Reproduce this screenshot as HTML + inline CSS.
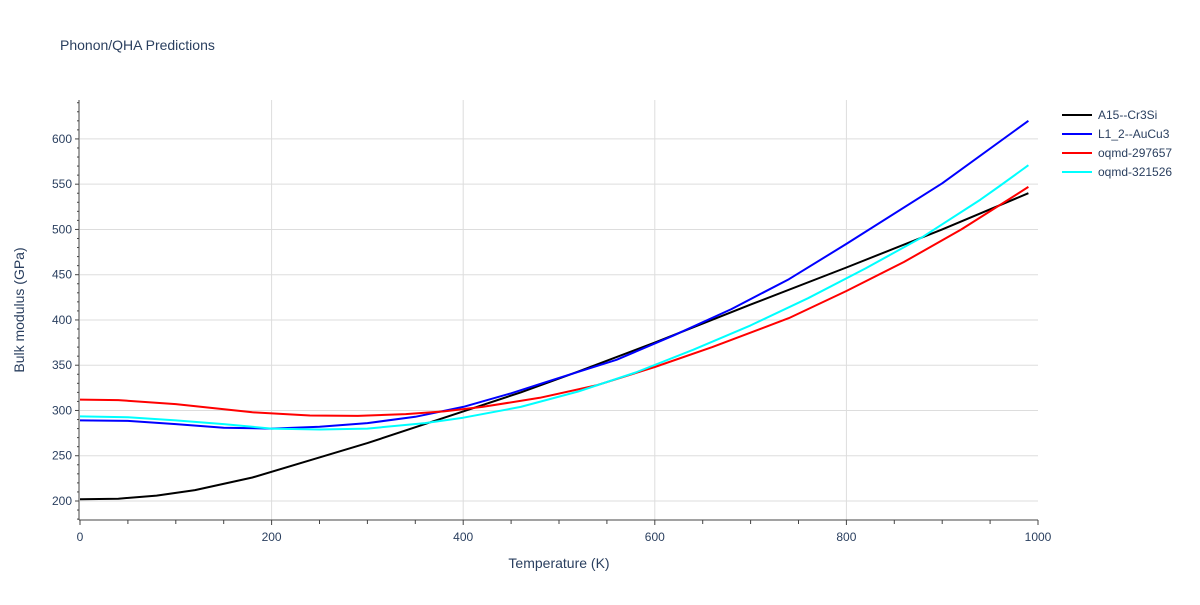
<!DOCTYPE html>
<html><head><meta charset="utf-8"><style>
body{margin:0;background:#fff;font-family:"Liberation Sans",sans-serif;}
svg text{font-family:"Liberation Sans",sans-serif;fill:#2a3f5f;}
</style></head><body>
<svg id="chart" width="1200" height="600" xmlns="http://www.w3.org/2000/svg">
<rect width="1200" height="600" fill="#fff"/>
<text x="60" y="50" font-size="14">Phonon/QHA Predictions</text>
<g id="grid"></g><g id="series"></g><g id="axes"></g><g id="legend"></g>
<text x="559" y="568" font-size="14" text-anchor="middle">Temperature (K)</text>
<text transform="translate(24,310) rotate(-90)" font-size="14" text-anchor="middle">Bulk modulus (GPa)</text>
</svg>
<script>
const seriesNames=["A15--Cr3Si","L1_2--AuCu3","oqmd-297657","oqmd-321526"];
const seriesColors=["#000000","#0000ff","#ff0000","#00ffff"];
const tA15=[0,40,80,120,180,240,300,360,400,460,520,600,700,800,900,990];
const vA15=[202,202.5,206,212,226,245,264,285,299,320,343,375,417,458,500,540];
const tL12=[0,50,100,150,200,250,300,350,400,450,500,560,620,680,740,800,900,990];
const vL12=[289,288.5,285,281,280,282,286,293,304,319,336,356,383,412,445,484,551,620];
const t297=[0,40,100,180,240,290,340,380,420,480,540,600,660,740,800,860,920,990];
const v297=[312,311.5,307,298,294.5,294,296,299,304,314,328,348,370,402,432,464,500,547];
const t321=[0,50,100,150,200,250,300,360,400,460,520,580,640,700,760,820,880,940,960,990];
const v321=[293.5,292.5,289,285,280,279,280,286,292,304,321,342,367,394,424,457,492,533,548,571];
const xTicks=[0,200,400,600,800,1000];
const yTicks=[200,250,300,350,400,450,500,550,600];
const NS="http://www.w3.org/2000/svg";
const X0=80,X1=1038,Y0=520,Y1=100,xmin=0,xmax=1000,ymin=179,ymax=643;
const xs=t=>X0+(t-xmin)/(xmax-xmin)*(X1-X0);
const ys=v=>Y0-(v-ymin)/(ymax-ymin)*(Y0-Y1);
function mk(tag,attrs,parent){const e=document.createElementNS(NS,tag);for(const k in attrs)e.setAttribute(k,attrs[k]);parent.appendChild(e);return e;}
const grid=document.getElementById('grid'),axes=document.getElementById('axes'),ser=document.getElementById('series'),leg=document.getElementById('legend');
xTicks.forEach(t=>{if(t>0&&t<1000){const l=mk('line',{x1:xs(t),x2:xs(t),y1:Y1,y2:Y0,stroke:'#ddd'},grid);

}
const tx=mk('text',{x:xs(t),y:541,'font-size':12,'text-anchor':'middle'},axes);tx.textContent=t;

});
for(let t=0;t<=1000;t+=50){mk('line',{x1:xs(t),x2:xs(t),y1:Y0,y2:Y0+(t%200==0?5:4),stroke:'#444'},axes);}
yTicks.forEach(v=>{const l=mk('line',{x1:X0,x2:X1,y1:ys(v),y2:ys(v),stroke:'#ddd'},grid);


const tx=mk('text',{x:72,y:ys(v)+4,'font-size':12,'text-anchor':'end'},axes);tx.textContent=v;

});
for(let v=180;v<=640;v+=10){mk('line',{x1:X0-1,x2:X0-(v%50==0?5:3),y1:ys(v),y2:ys(v),stroke:'#444'},axes);}
mk('line',{x1:X0-1,x2:X0-1,y1:Y1,y2:Y0,stroke:'#444'},axes);
mk('line',{x1:X0-1,x2:X1,y1:Y0,y2:Y0,stroke:'#444'},axes);
const data=[[tA15,vA15],[tL12,vL12],[t297,v297],[t321,v321]];
data.forEach((d,i)=>{const pts=d[0].map((t,j)=>xs(t).toFixed(1)+','+ys(d[1][j]).toFixed(1)).join(' ');
const p=mk('polyline',{points:pts,fill:'none',stroke:seriesColors[i],'stroke-width':2,'stroke-linejoin':'round'},ser);


const g=mk('g',{},leg);


const y=115+i*19;mk('line',{x1:1062,x2:1092,y1:y,y2:y,stroke:seriesColors[i],'stroke-width':2},g);
const tx=mk('text',{x:1098,y:y+4,'font-size':12},g);tx.textContent=seriesNames[i];});
</script>
</body></html>
